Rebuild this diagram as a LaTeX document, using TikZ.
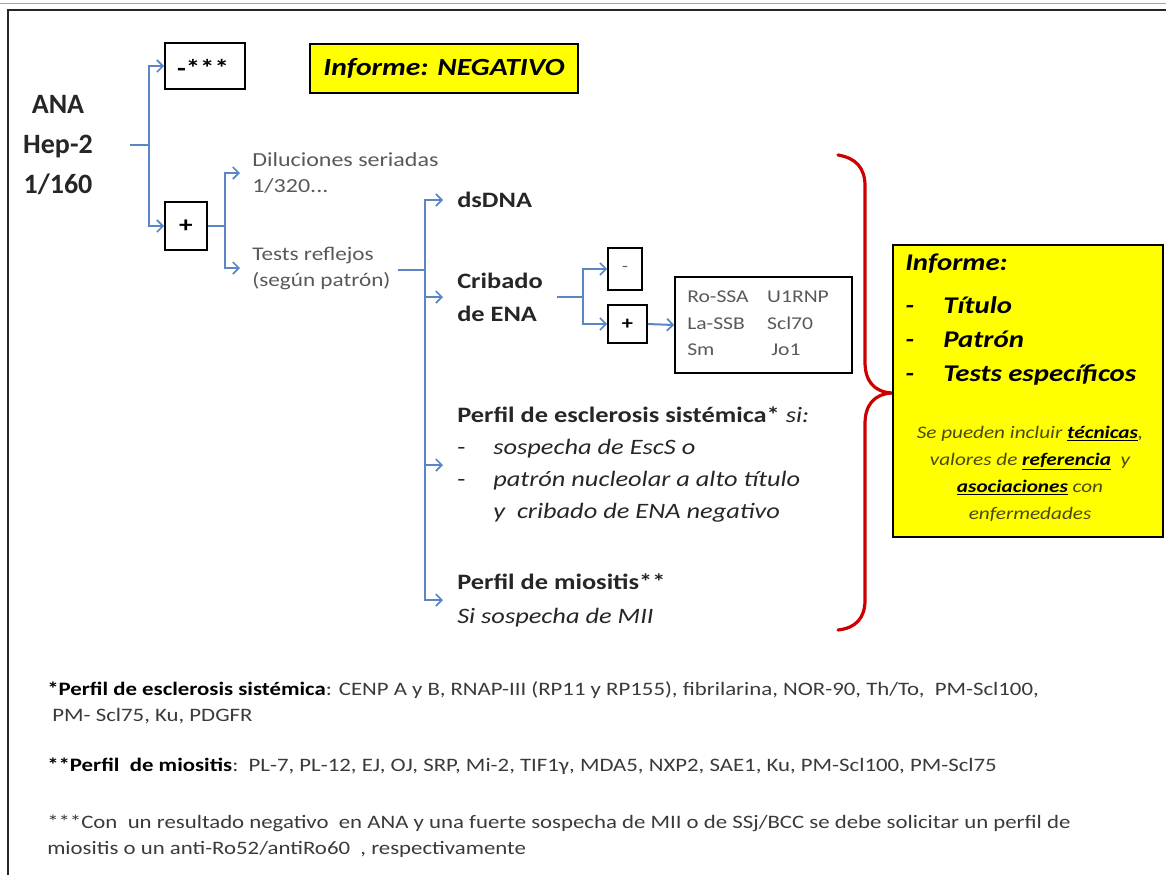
\documentclass[tikz,border=0pt]{standalone}
\usepackage{fontspec}
\setmainfont{Carlito}[FakeStretch=1.2]
\newfontfamily\titlefont{Carlito}
\usetikzlibrary{arrows.meta}

\definecolor{flowblue}{HTML}{5B86C5}
\definecolor{bracered}{HTML}{CC0000}
\definecolor{labelgray}{HTML}{595959}
\definecolor{textdark}{HTML}{262626}
\definecolor{notegray}{HTML}{3A3A3A}
\definecolor{hilite}{HTML}{FFFF00}
\definecolor{softolive}{HTML}{4A4A10}

\tikzset{
  link/.style={draw=flowblue, line width=1.5pt},
  arrowlink/.style={link, -{Straight Barb[length=4.5pt,width=9pt,line width=1.3pt]}},
  resultbox/.style={draw=black, line width=1.2pt, inner sep=0pt},
  notebox/.style={draw=black, line width=1.2pt, fill=hilite, inner sep=0pt},
  txt/.style={inner sep=0pt, anchor=west, align=left, text=textdark},
  graytxt/.style={txt, text=labelgray},
}

\begin{document}
\begin{tikzpicture}[x=0.75pt,y=-0.75pt]
\useasboundingbox (0,0) rectangle (1166,875);

% page frame
\draw[black!35, line width=0.75pt] (0,3) -- (1166,3);
\draw[black!85, line width=1.5pt] (8,875) -- (8,10) -- (1166,10);

% starting test
\node[inner sep=0pt, align=center, font=\titlefont\fontsize{21}{30}\selectfont\bfseries, text=textdark] (ana) at (58,145) {ANA\\Hep-2\\1/160};

% first split
\node[resultbox, minimum width=60pt, minimum height=34.5pt] (neg) at (205,66) {};
\node[inner sep=0pt, font=\fontsize{18}{22}\selectfont\bfseries] (negtxt) at (203,68) {-***};
\node[resultbox, minimum width=31.5pt, minimum height=36pt, font=\fontsize{17}{20}\selectfont\bfseries] (pos) at (186,226) {+};
\node[notebox, minimum width=201pt, minimum height=36.75pt, font=\fontsize{18.5}{22}\selectfont\bfseries\itshape] (negrep) at (444,68.5) {Informe: NEGATIVO};

\coordinate (j1a) at (130,145);
\coordinate (j1) at (149,145);
\draw[link] (j1a) -- (j1);
\draw[arrowlink] (j1) |- (neg.west);
\draw[arrowlink] (j1) |- (pos.west);

% after a positive result
\node[graytxt, font=\fontsize{15}{19.5}\selectfont] (dil) at (252,173) {Diluciones seriadas\\1/320...};
\node[graytxt, font=\fontsize{14.5}{19.5}\selectfont] (refl) at (252,268) {Tests reflejos\\(según patrón)};
\coordinate (j2) at (225,226);
\draw[link] (pos.east) -- (j2);
\draw[arrowlink, shorten >=9pt] (j2) |- (dil.west);
\draw[arrowlink, shorten >=9pt] (j2) |- (refl.west);

% reflex tests
\node[txt, font=\fontsize{16.5}{24.75}\selectfont\bfseries] (ds) at (457,200) {dsDNA};
\node[txt, font=\fontsize{16.5}{24.75}\selectfont\bfseries] (ena) at (457,297) {Cribado\\de ENA};
\node[txt, font=\fontsize{16.5}{24}\selectfont] (ssc) at (457,465) {\textbf{Perfil de esclerosis sistémica*} \textit{si:}\\
  \makebox[27pt][l]{-}\textit{sospecha de EscS o}\\
  \makebox[27pt][l]{-}\textit{patrón nucleolar a alto título}\\
  \makebox[27pt][l]{}\textit{y\ \ cribado de ENA negativo}};
\node[txt, font=\fontsize{16.5}{25.5}\selectfont] (myo) at (457,600) {\textbf{Perfil de miositis**}\\\textit{Si sospecha de MII}};

\coordinate (j3a) at (398,270);
\coordinate (j3) at (425,270);
\draw[link] (j3a) -- (j3);
\draw[arrowlink, shorten >=10.5pt] (j3) |- (ds.west);
\draw[arrowlink, shorten >=10.5pt] (j3) |- (ena.west);
\draw[arrowlink, shorten >=10.5pt] (j3) |- (ssc.west);
\draw[arrowlink, shorten >=10.5pt] (j3) |- (myo.west);

% ENA screening outcome
\node[resultbox, minimum width=25.5pt, minimum height=31.5pt, font=\fontsize{12}{14}\selectfont, text=labelgray] (enaneg) at (625,269) {-};
\node[resultbox, minimum width=29.25pt, minimum height=28.5pt, font=\fontsize{14}{16}\selectfont\bfseries] (enapos) at (627.5,324) {+};
\node[resultbox, minimum width=132.75pt, minimum height=72pt] (abs) at (763.5,325) {};
\node[graytxt, font=\fontsize{13.5}{20}\selectfont] (abtxt) at (687,323.5) {\makebox[60pt][l]{Ro-SSA}U1RNP\\\makebox[60pt][l]{La-SSB}Scl70\\\makebox[63pt][l]{Sm}Jo1};

\coordinate (j4a) at (557,297);
\coordinate (j4) at (583,297);
\draw[link] (j4a) -- (j4);
\draw[arrowlink] (j4) |- (enaneg.west);
\draw[arrowlink] (j4) |- (enapos.west);
\draw[arrowlink] (enapos.east) -- (abs.west);

% brace gathering the results into the report
\draw[bracered, line width=2.4pt, line cap=round]
  (838,155) .. controls (856,158) and (865,168) .. (865,186) -- (865,362)
  .. controls (865,381) and (874,392) .. (892,393)
  .. controls (874,394) and (865,405) .. (865,424) -- (865,600)
  .. controls (865,618) and (856,628) .. (838,630);

% report box
\node[notebox, minimum width=202.5pt, minimum height=219pt] (rep) at (1028,391) {};
\node[txt, text=black, font=\fontsize{18}{22}\selectfont\bfseries\itshape] (rep0) at (905,264) {Informe:};
\node[txt, text=black, font=\fontsize{18}{22}\selectfont\bfseries\itshape] (rep1) at (905,305) {\makebox[28.5pt][l]{-}Título};
\node[txt, text=black, font=\fontsize{18}{22}\selectfont\bfseries\itshape] (rep2) at (905,339) {\makebox[28.5pt][l]{-}Patrón};
\node[txt, text=black, font=\fontsize{18}{22}\selectfont\bfseries\itshape] (rep3) at (905,375) {\makebox[28.5pt][l]{-}Tests específicos};
\node[inner sep=0pt, align=center, text=softolive, font=\fontsize{13.25}{20.25}\selectfont\itshape] (repnote) at (1030,474) {Se pueden incluir \textcolor{black}{\textbf{\underline{técnicas}}},\\
  valores de \textcolor{black}{\textbf{\underline{referencia}}}\ \ y\\
  \textcolor{black}{\textbf{\underline{asociaciones}}} con\\
  enfermedades};

% footnotes
\node[txt, text=notegray, font=\fontsize{14.25}{19.5}\selectfont] (fn1) at (47,703) {\textcolor{black}{\textbf{*Perfil de esclerosis sistémica}}: CENP A y B, RNAP-III (RP11 y RP155), fibrilarina, NOR-90, Th/To,\ \ PM-Scl100,\\
  \ PM- Scl75, Ku, PDGFR};
\node[txt, text=notegray, font=\fontsize{14.25}{19.5}\selectfont] (fn2) at (47,766) {\textcolor{black}{\textbf{**Perfil\ \ de miositis}}:\ \ PL-7, PL-12, EJ, OJ, SRP, Mi-2, TIF1γ, MDA5, NXP2, SAE1, Ku, PM-Scl100, PM-Scl75};
\node[txt, text=notegray, font=\fontsize{14.25}{19.5}\selectfont] (fn3) at (47,836) {***Con\ \ un resultado\ negativo\ \ en ANA y una fuerte sospecha de MII o de SSj/BCC se debe solicitar un perfil de\\
  miositis o un anti-Ro52/antiRo60\ \ , respectivamente};

\end{tikzpicture}
\end{document}
